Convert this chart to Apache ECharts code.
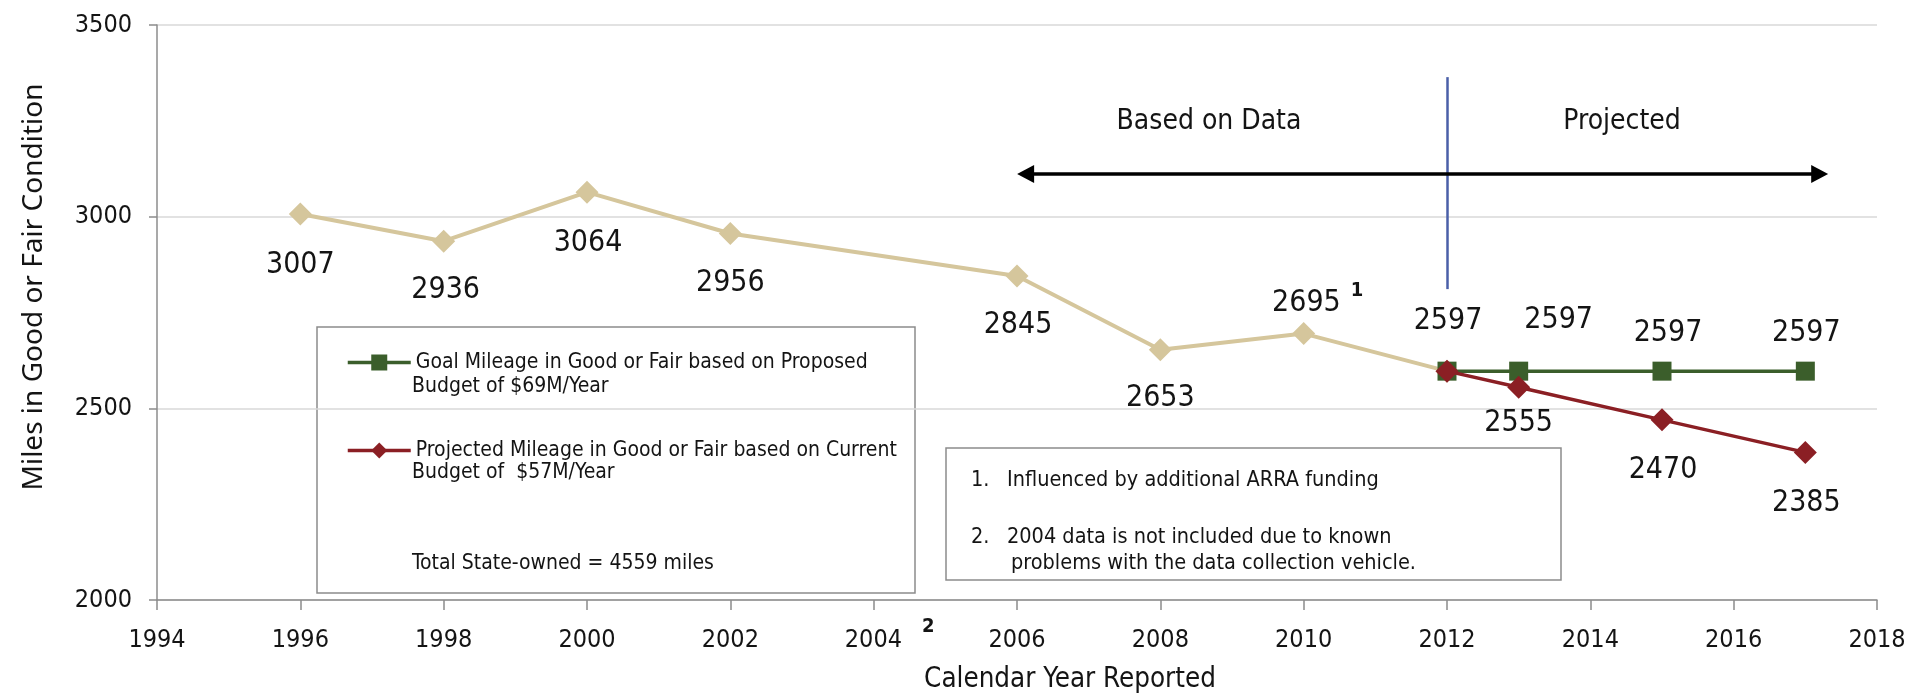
<!DOCTYPE html>
<html><head><meta charset="utf-8">
<script src="https://cdn.jsdelivr.net/npm/echarts@6/dist/echarts.min.js"></script>
<style>html,body{margin:0;padding:0;background:#fff}#c{width:1927px;height:697px}</style>
</head><body><div id="c"></div>
<script>
// ---------------- data ----------------
const baseYears  = [1996, 1998, 2000, 2002, 2006, 2008, 2010, 2012];
const baseValues = [3007, 2936, 3064, 2956, 2845, 2653, 2695, 2597];
const goalYears  = [2012, 2013, 2015, 2017];
const goalValues = [2597, 2597, 2597, 2597];
const projYears  = [2012, 2013, 2015, 2017];
const projValues = [2597, 2555, 2470, 2385];
const xRange = [1994, 2018, 2];
const yRange = [2000, 3500, 500];
const goalName = 'Goal Mileage in Good or Fair based on Proposed\nBudget of $69M/Year';
const projName = 'Projected Mileage in Good or Fair based on Current\nBudget of  $57M/Year';
const footnoteYear = 2010;     // footnote 1
const footnoteTickYear = 2004; // footnote 2
const splitYear = 2012;
const arrowRange = [2006.12, 2017.2, 3111];
const splitLineRange = [3364, 2811];

// ---------------- style ----------------
const NARROW = "'DejaVu Sans Condensed','Liberation Sans',sans-serif";
const TXT = '#141414';
const cBase = '#d5c69c', cGoal = '#3b5e2b', cProj = '#8b1f24', cBlue = '#4a5fa8';
// label offsets [dx, dy] relative to point centre (null = no label)
const baseOff = [[0,51],[2,49],[1,51],[0,50],[1,49],[0,49],[14,-30],[1,-50]];
const goalOff = [null,[40,-51],[6,-38],[1,-38]];
const projOff = [null,[0,36],[1,50],[1,51]];

const supStyle = {fontFamily: NARROW, fontSize: 20, fontWeight: 'bold', color: TXT, lineHeight: 18};
const dataLabel = {fontFamily: NARROW, fontSize: 30, color: TXT,
  rich: {sup: Object.assign({}, supStyle, {padding: [0,0,26,10]})}};

function build(years, values, offs) {
  return years.map((y, i) => {
    const o = offs[i];
    const item = {value: [y, values[i]]};
    if (!o) { item.label = {show: false}; return item; }
    item.label = Object.assign({show: true, position: 'inside', offset: o,
      formatter: y === footnoteYear ? (p => p.value[1] + '{sup|1}') : (p => String(p.value[1]))}, dataLabel);
    return item;
  });
}

const chart = echarts.init(document.getElementById('c'), null, {renderer: 'canvas'});
chart.setOption({
  animation: false,
  backgroundColor: '#fff',
  grid: {left: 157, right: 50, top: 25, bottom: 97},
  xAxis: {
    type: 'value', min: xRange[0], max: xRange[1], interval: xRange[2],
    splitLine: {show: false},
    axisLine: {lineStyle: {color: '#8c8c8c', width: 1.5}},
    axisTick: {length: 10, lineStyle: {color: '#8c8c8c', width: 1.5}},
    axisLabel: {margin: 28, fontFamily: NARROW, fontSize: 25, color: TXT,
      formatter: v => v === footnoteTickYear ? '{pad|}' + v + '{sup|2}' : String(v),
      rich: {pad: {width: 32}, sup: Object.assign({}, supStyle, {padding: [0,0,28,20]})}}
  },
  yAxis: {
    type: 'value', min: yRange[0], max: yRange[1], interval: yRange[2],
    axisLine: {show: true, lineStyle: {color: '#8c8c8c', width: 1.5}},
    axisTick: {show: true, length: 8, lineStyle: {color: '#8c8c8c', width: 1.5}},
    splitLine: {lineStyle: {color: '#d9d9d9', width: 1.5}},
    axisLabel: {margin: 25, fontFamily: NARROW, fontSize: 25, color: TXT, formatter: v => String(v)}
  },
  legend: {
    data: [goalName, projName], orient: 'vertical', left: 346, top: 352, padding: 0,
    itemWidth: 63, itemHeight: 20, itemGap: 67, selectedMode: false,
    formatter: n => n.split('\n')[0],
    lineStyle: {width: 3.5},
    textStyle: {fontFamily: NARROW, fontSize: 21, color: TXT}
  },
  series: [
    {
      name: 'Based on data', type: 'line', z: 2,
      data: build(baseYears, baseValues, baseOff),
      symbol: 'diamond', symbolSize: 23,
      lineStyle: {color: cBase, width: 4}, itemStyle: {color: cBase},
      markLine: {
        silent: true, animation: false, label: {show: false},
        data: [
          [{coord: [splitYear, splitLineRange[0]], symbol: 'none', lineStyle: {color: cBlue, width: 2.5, type: 'solid'}},
           {coord: [splitYear, splitLineRange[1]], symbol: 'none'}],
          [{coord: [arrowRange[0], arrowRange[2]], symbol: 'triangle', symbolSize: [18, 17], lineStyle: {color: '#000', width: 3.5, type: 'solid'}, itemStyle: {color: '#000'}},
           {coord: [arrowRange[1], arrowRange[2]], symbol: 'triangle', symbolSize: [18, 17]}]
        ]
      }
    },
    {
      name: goalName, type: 'line', z: 3,
      data: build(goalYears, goalValues, goalOff),
      symbol: 'rect', symbolSize: 19,
      lineStyle: {color: cGoal, width: 3.5}, itemStyle: {color: cGoal}
    },
    {
      name: projName, type: 'line', z: 4,
      data: build(projYears, projValues, projOff),
      symbol: 'diamond', symbolSize: 23,
      lineStyle: {color: cProj, width: 3.5}, itemStyle: {color: cProj}
    }
  ],
  graphic: [
    {type: 'text', x: 34, y: 287, rotation: Math.PI / 2,
      style: {text: 'Miles in Good or Fair Condition', fontFamily: "'Noto Sans',sans-serif", fontSize: 28, fill: TXT, align: 'center', verticalAlign: 'middle'}},
    {type: 'text', x: 1070, y: 680,
      style: {text: 'Calendar Year Reported', fontFamily: NARROW, fontSize: 27.5, fill: TXT, align: 'center', verticalAlign: 'middle'}},
    {type: 'text', x: 1209, y: 122,
      style: {text: 'Based on Data', fontFamily: NARROW, fontSize: 28, fill: TXT, align: 'center', verticalAlign: 'middle'}},
    {type: 'text', x: 1622, y: 122,
      style: {text: 'Projected', fontFamily: NARROW, fontSize: 28, fill: TXT, align: 'center', verticalAlign: 'middle'}},
    {type: 'rect', shape: {x: 317, y: 327, width: 598, height: 266}, style: {fill: 'none', stroke: '#8c8c8c', lineWidth: 1.5}},
    {type: 'text', x: 412, y: 387, style: {text: 'Budget of $69M/Year', fontFamily: NARROW, fontSize: 21, fill: TXT, align: 'left', verticalAlign: 'middle'}},
    {type: 'text', x: 412, y: 473, style: {text: 'Budget of  $57M/Year', fontFamily: NARROW, fontSize: 21, fill: TXT, align: 'left', verticalAlign: 'middle'}},
    {type: 'text', x: 412, y: 564, style: {text: 'Total State-owned = 4559 miles', fontFamily: NARROW, fontSize: 21, fill: TXT, align: 'left', verticalAlign: 'middle'}},
    {type: 'rect', shape: {x: 946, y: 448, width: 615, height: 132}, style: {fill: 'none', stroke: '#8c8c8c', lineWidth: 1.5}},
    {type: 'text', x: 971, y: 480, style: {text: '1.', fontFamily: NARROW, fontSize: 21.5, fill: TXT, align: 'left', verticalAlign: 'middle'}},
    {type: 'text', x: 1007, y: 480, style: {text: 'Influenced by additional ARRA funding', fontFamily: NARROW, fontSize: 21.5, fill: TXT, align: 'left', verticalAlign: 'middle'}},
    {type: 'text', x: 971, y: 537, style: {text: '2.', fontFamily: NARROW, fontSize: 21.5, fill: TXT, align: 'left', verticalAlign: 'middle'}},
    {type: 'text', x: 1007, y: 537, style: {text: '2004 data is not included due to known', fontFamily: NARROW, fontSize: 21.5, fill: TXT, align: 'left', verticalAlign: 'middle'}},
    {type: 'text', x: 1011, y: 563, style: {text: 'problems with the data collection vehicle.', fontFamily: NARROW, fontSize: 21.5, fill: TXT, align: 'left', verticalAlign: 'middle'}}
  ]
});
</script></body></html>
